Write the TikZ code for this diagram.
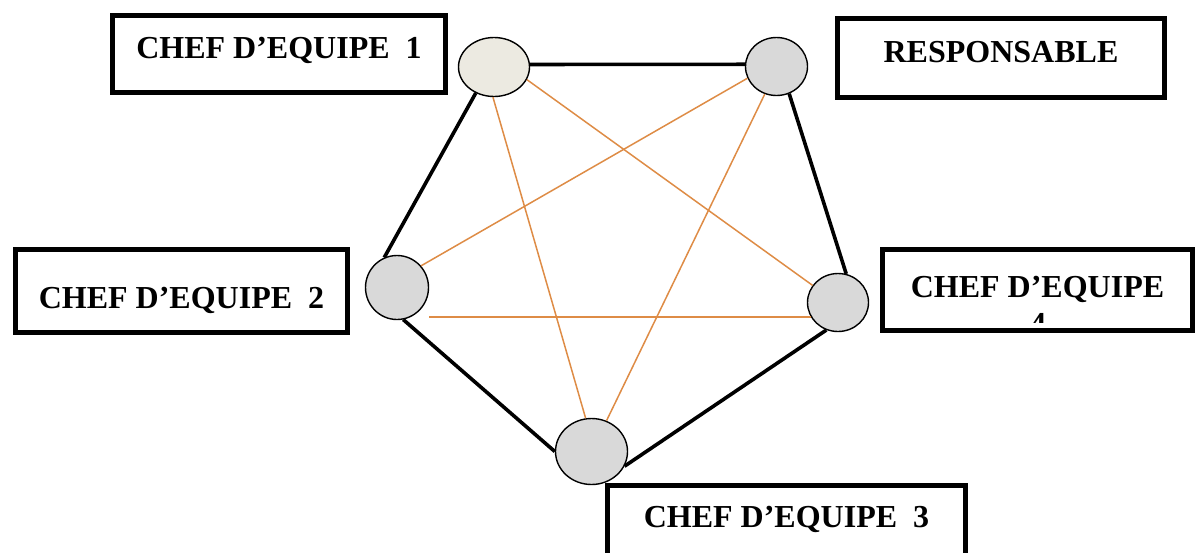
\documentclass[tikz,border=0pt]{standalone}
\usepackage{fontspec}
\setmainfont{Liberation Serif}
\usetikzlibrary{shapes.geometric}
\definecolor{linkorange}{RGB}{222,140,70}
\definecolor{nodegray}{RGB}{217,217,217}
\definecolor{nodebeige}{RGB}{236,234,225}
\begin{document}
\begin{tikzpicture}[x=1pt,y=-1pt,
  rolebox/.style={draw=black, line width=5.5pt, rectangle, inner sep=0pt, align=center,
    font=\fontsize{32}{38}\selectfont\bfseries},
  member/.style={draw=black, line width=1.4pt, ellipse, inner sep=0pt, fill=nodegray},
  hierarchy/.style={draw=black, line width=3.6pt},
  crosslink/.style={draw=linkorange, line width=1.5pt}]
\useasboundingbox (0,0) rectangle (1197,552);
\clip (0,0) rectangle (1197,552);

% role boxes
\node[rolebox, minimum width=333pt, text height=42.5pt, text depth=34.5pt] (b1) at (279,54) {CHEF D’EQUIPE~~1};
\node[rolebox, minimum width=327pt, text height=43.5pt, text depth=35.5pt] (br) at (1001,58) {RESPONSABLE};
\node[rolebox, minimum width=332pt, text height=58.5pt, text depth=24.5pt] (b2) at (181.5,291) {CHEF D’EQUIPE~~2};
\node[rolebox, minimum width=310pt, text height=47.5pt, text depth=33.5pt] (b4) at (1037.5,290) {CHEF D’EQUIPE};
\node[rolebox, minimum width=358pt, text height=41.5pt, text depth=43pt] (b3) at (786.5,527.75) {CHEF D’EQUIPE~~3};
\begin{scope}
  \clip (885,300) rectangle (1190,322);
  \node[font=\fontsize{32}{38}\selectfont\bfseries, anchor=base, inner sep=0pt] (b4num) at (1038,334) {4};
\end{scope}

% members
\node[member, fill=nodebeige, minimum width=71pt, minimum height=59pt] (e1) at (494,67) {};
\node[member, minimum width=62pt, minimum height=58pt] (er) at (776.5,66.5) {};
\node[member, minimum width=63pt, minimum height=64pt] (e2) at (397,287.5) {};
\node[member, minimum width=61pt, minimum height=58pt] (e4) at (838,302.5) {};
\node[member, minimum width=72pt, minimum height=66pt] (e3) at (591.5,451.5) {};

% outer ring of links
\draw[hierarchy] (e1.4) -- (er.176);
\draw[hierarchy] (er.-65) -- (e4.74);
\draw[hierarchy] (e4.-113) -- (e3.-24);
\draw[hierarchy] (e3.west) -- (e2.-79);
\draw[hierarchy] (e2.113) -- (e1.-125);

% inner star of links
\draw[crosslink] (e1.-21) -- (e4.146);
\draw[crosslink] (e1.-92) -- (e3.100);
\draw[crosslink] (er.-158) -- (e2.42);
\draw[crosslink] (er.-113) -- (e3.64);
\draw[crosslink] (e2.east |- e4.-152) -- (e4.-152);
\end{tikzpicture}
\end{document}
